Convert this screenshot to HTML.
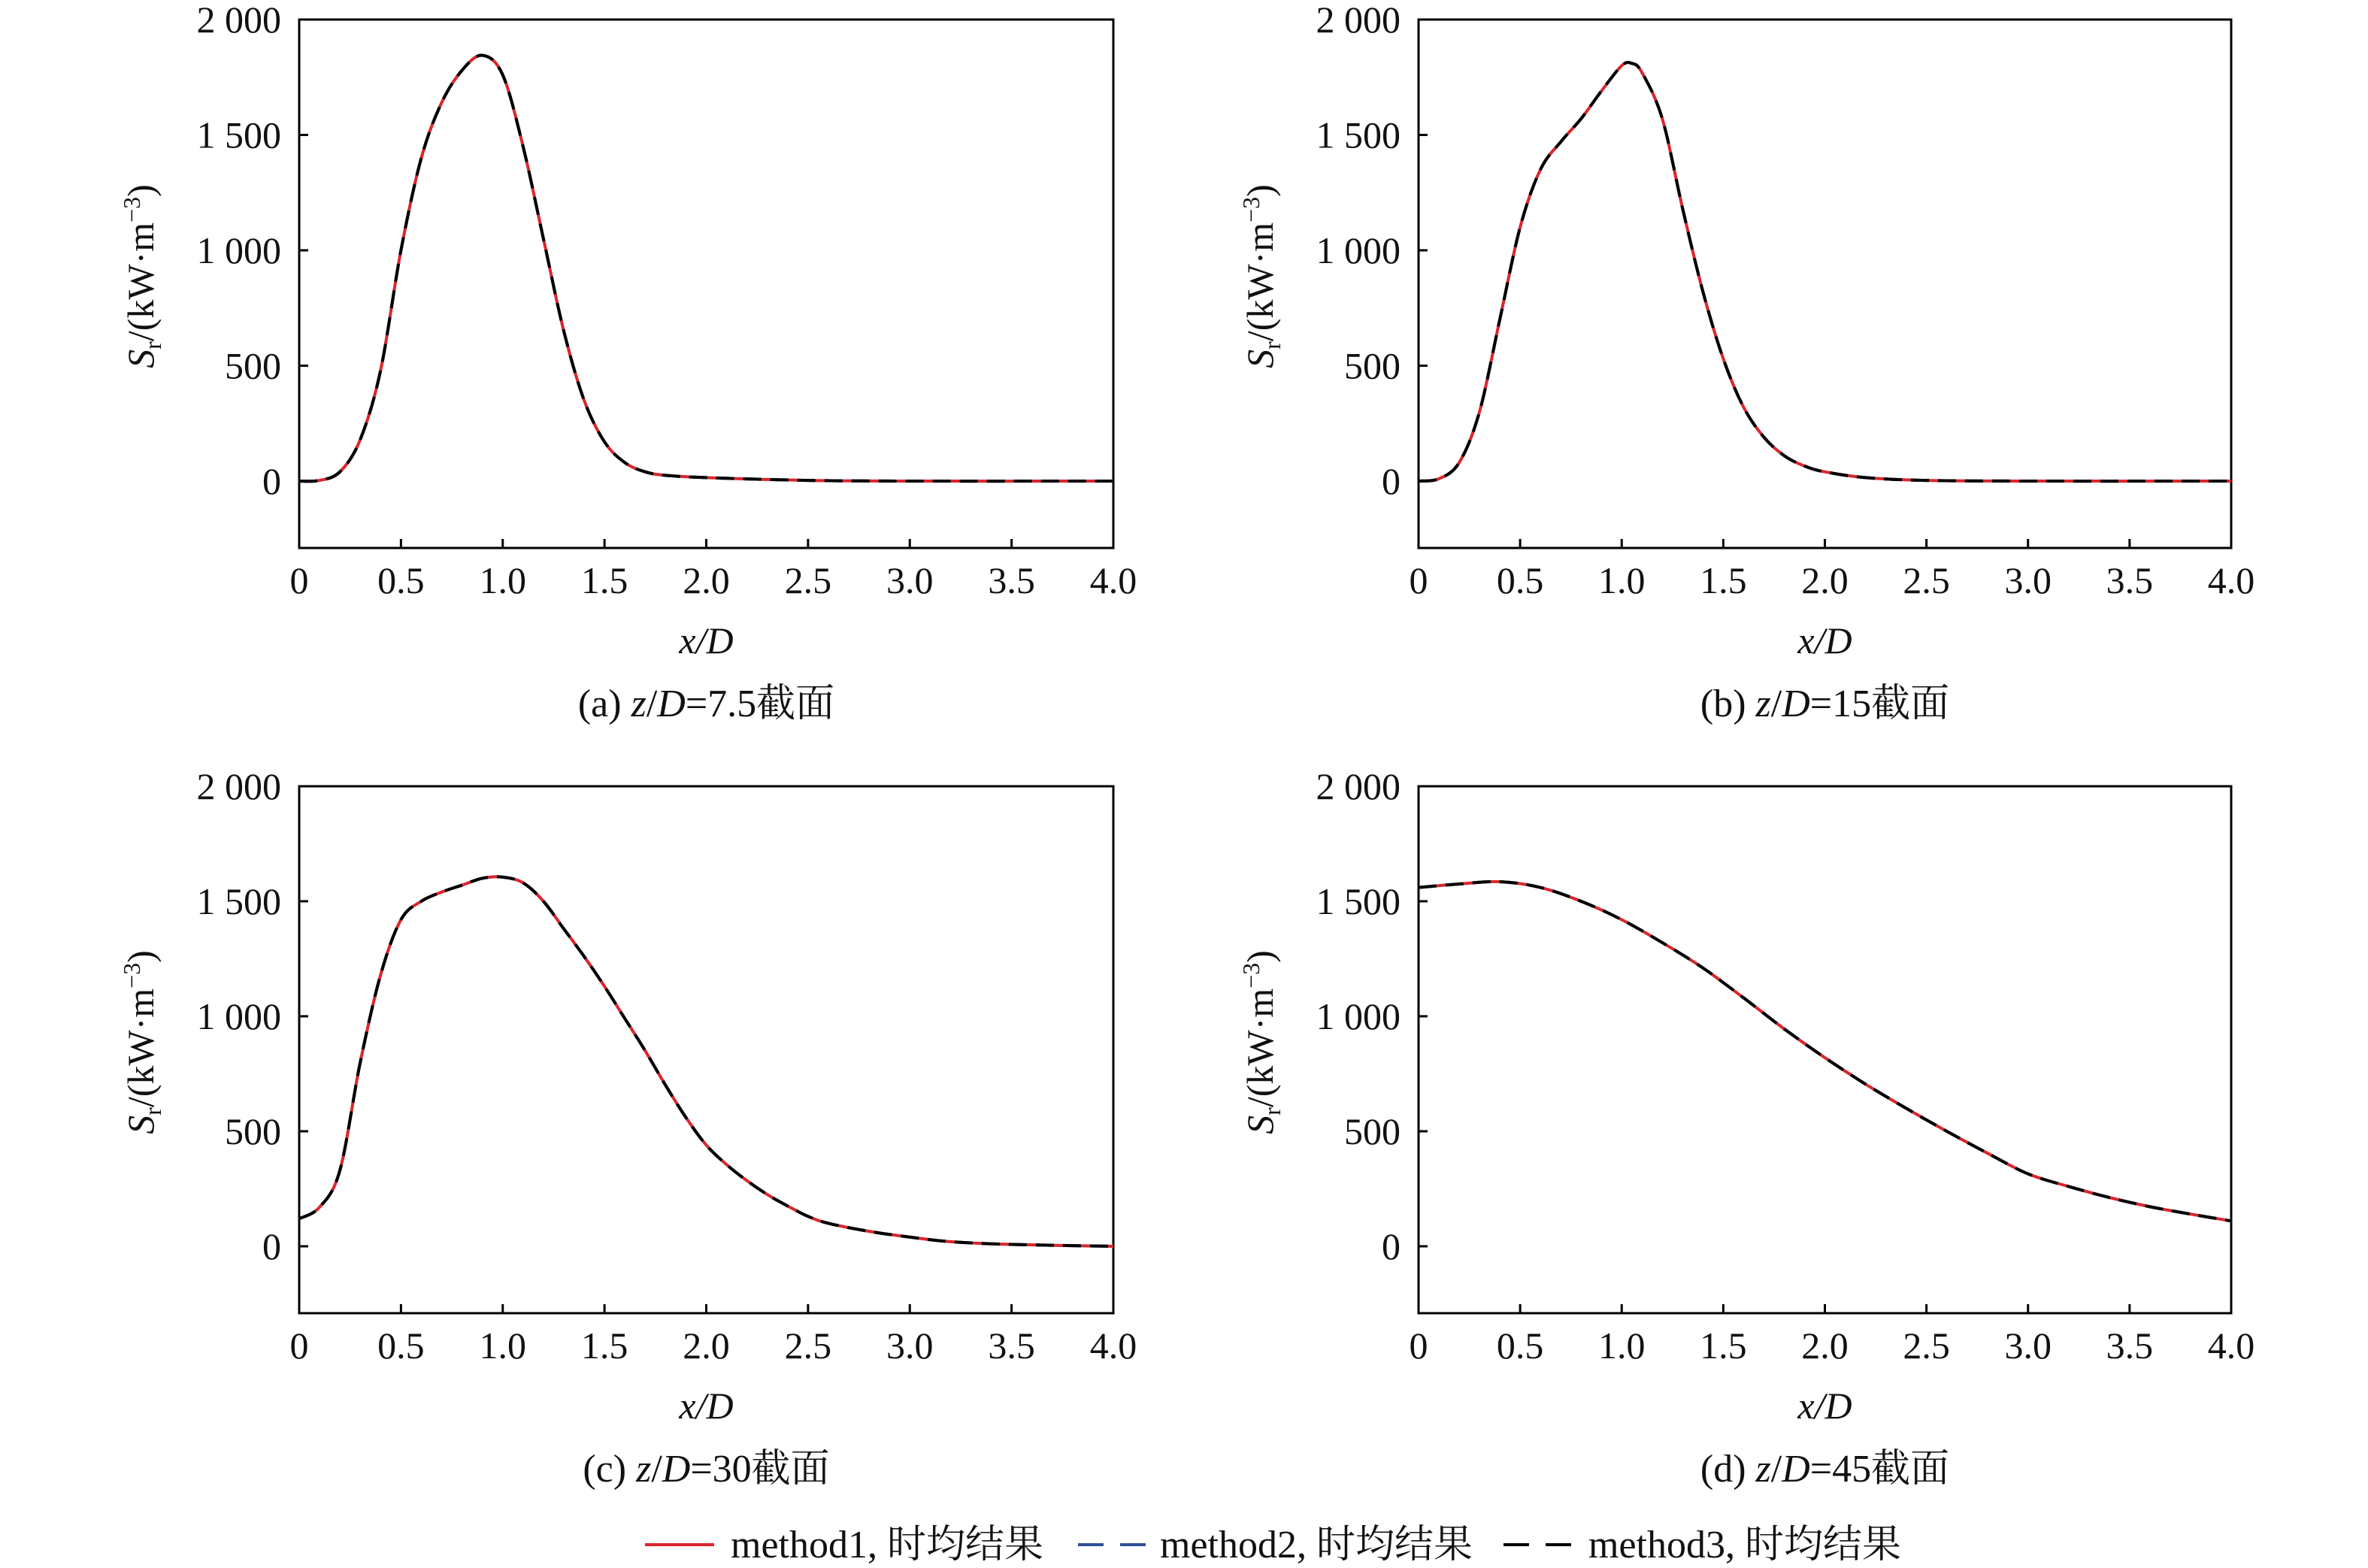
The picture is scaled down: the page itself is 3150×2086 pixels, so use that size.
<!DOCTYPE html>
<html><head><meta charset="utf-8"><style>
html,body{margin:0;padding:0;background:#fff}
svg{display:block}
text{font-family:"Liberation Serif","Noto Serif CJK SC",serif;fill:#111}
</style></head><body>
<svg id="chart" width="3150" height="2086" viewBox="0 0 3150 2086" xmlns="http://www.w3.org/2000/svg">
<g id="legend">
 <line x1="858" y1="2055" x2="950" y2="2055" stroke="#d9262c" stroke-width="4"/>
 <text x="972" y="2072" font-size="52">method1, 时均结果</text>
 <line x1="1434" y1="2055" x2="1525" y2="2055" stroke="#2f4f9a" stroke-width="4" stroke-dasharray="34,22"/>
 <text x="1543" y="2072" font-size="52">method2, 时均结果</text>
 <line x1="2000" y1="2055" x2="2090" y2="2055" stroke="#000" stroke-width="4" stroke-dasharray="34,22"/>
 <text x="2113" y="2072" font-size="52">method3, 时均结果</text>
</g>
</svg>
<script>
const xTicks=[0,0.5,1.0,1.5,2.0,2.5,3.0,3.5,4.0];
const xTickLabels=["0","0.5","1.0","1.5","2.0","2.5","3.0","3.5","4.0"];
const yTicks=[0,500,1000,1500,2000];
const yTickLabels=["0","500","1 000","1 500","2 000"];
const captions=["(a) ","(b) ","(c) ","(d) "];
const captionZ=["7.5","15","30","45"];
const xA=[0,0.1,0.2,0.3,0.4,0.5,0.6,0.7,0.8,0.9,1.0,1.1,1.2,1.3,1.4,1.5,1.6,1.7,1.8,2.0,2.5,3.0,4.0];
const yA=[0,3,40,180,480,1000,1400,1640,1780,1845,1760,1450,1050,650,350,170,80,40,25,15,3,0,0];
const xB=[0,0.1,0.2,0.3,0.4,0.5,0.6,0.7,0.8,0.9,1.0,1.05,1.1,1.2,1.3,1.4,1.5,1.6,1.7,1.8,1.9,2.0,2.2,2.5,3.0,4.0];
const yB=[0,10,80,300,700,1100,1350,1470,1570,1690,1800,1810,1770,1570,1180,820,530,320,190,110,65,40,15,3,0,0];
const xC=[0,0.1,0.2,0.3,0.4,0.5,0.6,0.7,0.8,0.9,1.0,1.1,1.2,1.3,1.4,1.5,1.6,1.7,1.8,1.9,2.0,2.1,2.2,2.3,2.4,2.5,2.6,2.8,3.0,3.2,3.5,4.0];
const yC=[120,170,330,800,1180,1420,1500,1540,1570,1600,1605,1580,1500,1380,1260,1130,990,850,700,560,440,355,285,225,175,130,100,65,40,20,8,0];
const xD=[0,0.2,0.4,0.6,0.8,1.0,1.2,1.4,1.6,1.8,2.0,2.2,2.4,2.6,2.8,3.0,3.2,3.4,3.6,3.8,4.0];
const yD=[1560,1575,1585,1560,1500,1420,1320,1210,1080,945,820,705,600,500,405,315,260,212,172,140,110];
const series1=[yA,yB,yC,yD];
const series2=[yA,yB,yC,yD];
const series3=[yA,yB,yC,yD];
const xsAll=[xA,xB,xC,xD];
const panels=[{l:398,r:1481,t:26,b:729,z:640},{l:1887,r:2968,t:26,b:729,z:640},{l:398,r:1481,t:1046,b:1747,z:1658},{l:1887,r:2968,t:1046,b:1747,z:1658}];
const NS="http://www.w3.org/2000/svg";
const svg=document.getElementById('chart');
function mk(tag,attrs,parent){const e=document.createElementNS(NS,tag);for(const k in attrs)e.setAttribute(k,attrs[k]);parent.appendChild(e);return e;}
function path(xs,ys,sx,sy){
 const P=xs.map((x,i)=>[sx(x),sy(ys[i])]);
 let d="M"+P[0][0]+","+P[0][1];
 for(let i=0;i<P.length-1;i++){
  const p0=P[Math.max(0,i-1)],p1=P[i],p2=P[i+1],p3=P[Math.min(P.length-1,i+2)];
  const c1=[p1[0]+(p2[0]-p0[0])/6,p1[1]+(p2[1]-p0[1])/6];
  const c2=[p2[0]-(p3[0]-p1[0])/6,p2[1]-(p3[1]-p1[1])/6];
  d+=" C"+c1[0]+","+c1[1]+" "+c2[0]+","+c2[1]+" "+p2[0]+","+p2[1];
 }
 return d;
}
panels.forEach((p,i)=>{
 const g=mk('g',{},svg);
 
 
 const sx=x=>p.l+(x/4)*(p.r-p.l);
 const k=(p.z-p.t)/2000;
 const sy=y=>p.z-y*k;
 const frame=mk('rect',{x:p.l,y:p.t,width:p.r-p.l,height:p.b-p.t,fill:'none',stroke:'#000','stroke-width':3},g);
 
 
 xTicks.forEach((t,j)=>{
  const x=sx(t);
  mk('line',{x1:x,y1:p.b,x2:x,y2:p.b-12,stroke:'#000','stroke-width':3},g);
  const tx=mk('text',{x:x,y:p.b+60,'font-size':50,'text-anchor':'middle'},g);
  tx.textContent=xTickLabels[j];
  
  
 });
 yTicks.forEach((t,j)=>{
  const y=sy(t);
  mk('line',{x1:p.l,y1:y,x2:p.l+12,y2:y,stroke:'#000','stroke-width':3},g);
  const tx=mk('text',{x:p.l-24,y:y+17,'font-size':50,'text-anchor':'end'},g);
  tx.textContent=yTickLabels[j];
  
  
 });
 const xl=mk('text',{x:(p.l+p.r)/2,y:p.b+140,'font-size':50,'text-anchor':'middle','font-style':'italic'},g);
 xl.textContent='x/D';
 
 
 const cy=(p.t+p.b)/2-10;
 const yl=mk('text',{x:0,y:0,'font-size':50,'text-anchor':'middle',transform:'translate('+(p.l-194)+','+cy+') rotate(-90)'},g);
 yl.innerHTML='<tspan font-style="italic">S</tspan><tspan font-size="32" dy="10">r</tspan><tspan dy="-10">/(kW·m</tspan><tspan font-size="32" dy="-18">−3</tspan><tspan dy="18">)</tspan>';
 
 
 const cap=mk('text',{x:(p.l+p.r)/2,y:p.b+224,'font-size':52,'text-anchor':'middle'},g);
 cap.innerHTML=captions[i]+'<tspan font-style="italic">z</tspan>/<tspan font-style="italic">D</tspan>='+captionZ[i]+'截面';
 
 
 const xs=xsAll[i];
 const l1=mk('path',{d:path(xs,series1[i],sx,sy),fill:'none',stroke:'#d9262c','stroke-width':4},g);
 
 
 const l2=mk('path',{d:path(xs,series2[i],sx,sy),fill:'none',stroke:'#2f4f9a','stroke-width':4,'stroke-dasharray':'24,12'},g);
 
 
 const l3=mk('path',{d:path(xs,series3[i],sx,sy),fill:'none',stroke:'#000','stroke-width':4,'stroke-dasharray':'24,12'},g);
 
 
});
</script>
</body></html>
